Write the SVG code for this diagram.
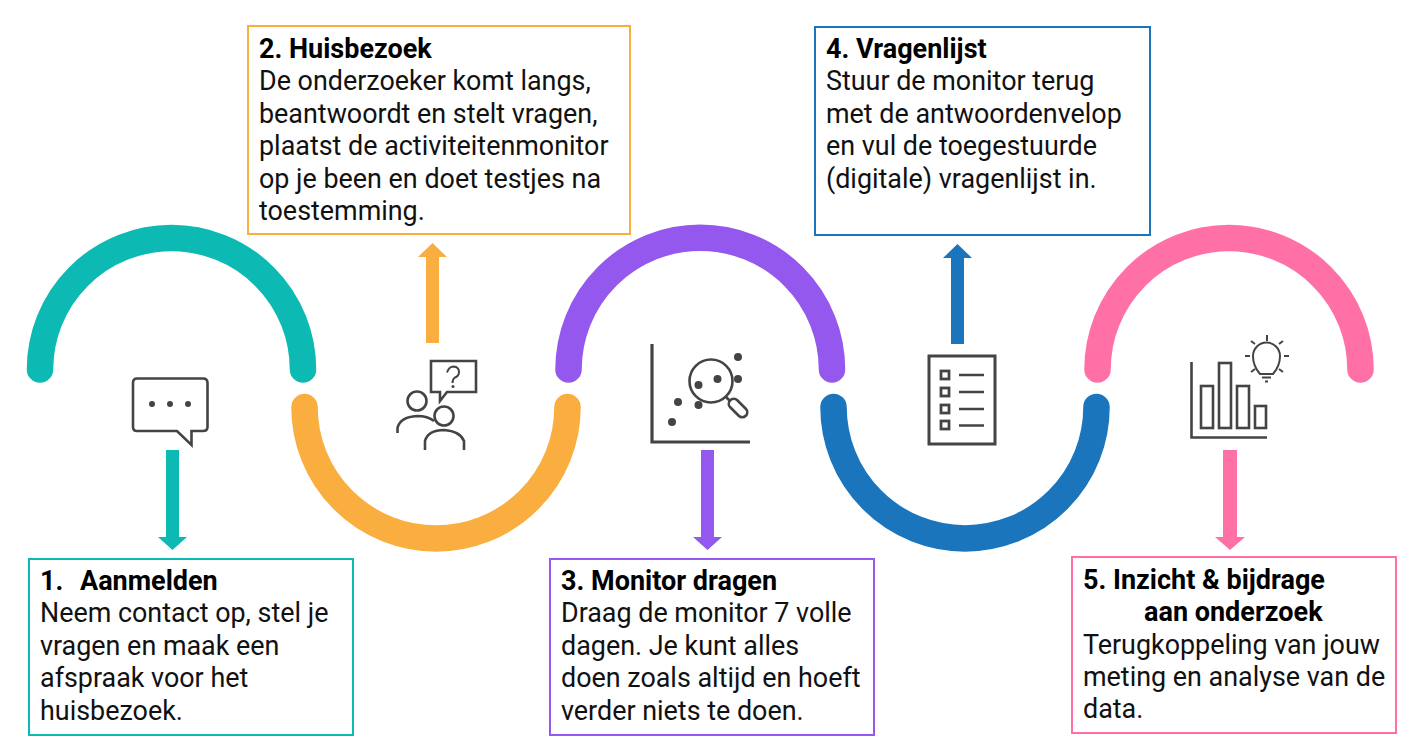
<svg xmlns="http://www.w3.org/2000/svg" width="1417" height="746" viewBox="0 0 1417 746">
<style>
text{font-family:Roboto,"Liberation Sans",sans-serif;font-size:26.9px;fill:#111}
.h{font-weight:700;fill:#000;font-size:27px}
.box{fill:#fff;stroke-width:2}
.arc{fill:none;stroke-width:26.500;stroke-linecap:round}
.ic{fill:none;stroke:#444;stroke-width:2.600}
.th{fill:none;stroke:#444;stroke-width:2}
.d{fill:#444}
</style>
<rect width="1417" height="746" fill="#fff"/>
<g id="connectors">
<path class="arc" stroke="#0cbab3" d="M40 369.500A131.500 131.500 0 0 1 303 369.500"/>
<path class="arc" stroke="#faae3f" d="M304.500 407A131.500 131.500 0 0 0 567.500 407"/>
<path class="arc" stroke="#9558ee" d="M568.500 369.500A131.750 131.750 0 0 1 832 369.500"/>
<path class="arc" stroke="#1b75bc" d="M833.500 407A131.500 131.500 0 0 0 1096.500 407"/>
<path class="arc" stroke="#ff70a6" d="M1097.500 369.500A131.500 131.500 0 0 1 1360.500 369.500"/>
<path fill="#0cbab3" d="M166 450H179V537H187L172.500 550 158 537H166Z"/>
<path fill="#faae3f" d="M426 343H439V257H447L432.500 243 418 257H426Z"/>
<path fill="#9558ee" d="M701 450H714V537H722L707.500 550 693 537H701Z"/>
<path fill="#1b75bc" d="M951 344H964V258H972L957.500 244 943 258H951Z"/>
<path fill="#ff70a6" d="M1223 450H1237V537H1245L1230 550 1215 537H1223Z"/>
</g>
<g id="icon-chat">
<path class="ic" d="M137 378.500H203Q207.500 378.500 207.500 383V427Q207.500 431 203 431H191.500V445L177 431H137Q133 431 133 427V383Q133 378.500 137 378.500Z"/>
<circle class="d" cx="152" cy="404" r="3"/><circle class="d" cx="170" cy="404" r="3"/><circle class="d" cx="188" cy="404" r="3"/>
</g>
<g id="icon-people">
<path class="ic" d="M431 361H476V392H447L440 401V392H431Z"/>
<path class="th" d="M447 372.500Q449 366.500 453.500 366.500 459 367 459 372 459 376 455 377.500 452.500 379 452.500 383"/>
<circle class="d" cx="453" cy="386.500" r="1.500"/>
<circle class="ic" cx="417" cy="401" r="9.500"/>
<circle class="ic" cx="444" cy="416" r="9.500"/>
<path class="ic" d="M397.500 433V428Q400 417 417 416 428 416 434 421"/>
<path class="ic" d="M425 450V441Q428 430 444 430 460 431 464 441V450"/>
</g>
<g id="icon-scatter">
<path fill="none" stroke="#444" stroke-width="3.200" d="M652 344V442H750"/>
<circle class="ic" cx="711" cy="381" r="21.500"/>
<rect class="ic" x="-5" y="-11" width="10" height="22" rx="5" transform="translate(738 408) rotate(-45)"/>
<path class="ic" d="M726 397L730 401"/>
<circle class="d" cx="738" cy="357" r="4"/><circle class="d" cx="738" cy="379" r="4"/><circle class="d" cx="717.500" cy="379" r="4"/><circle class="d" cx="698.500" cy="385" r="4"/><circle class="d" cx="698.500" cy="405" r="4"/><circle class="d" cx="678" cy="402" r="4"/><circle class="d" cx="672" cy="422" r="4"/>
</g>
<g id="icon-list">
<rect fill="none" stroke="#444" stroke-width="3" x="929" y="356" width="66" height="88"/>
<g fill="none" stroke="#444" stroke-width="2.800"><rect x="941" y="371" width="8" height="8"/><rect x="941" y="388" width="8" height="8"/><rect x="941" y="405" width="8" height="8"/><rect x="941" y="421" width="8" height="8"/></g>
<path class="ic" d="M959 375H984M959 392H984M959 409H984M959 425.500H984"/>
</g>
<g id="icon-chart">
<path class="ic" d="M1191.500 362V437.500H1267"/>
<rect class="ic" x="1201" y="386" width="12" height="42"/>
<rect class="ic" x="1219" y="363" width="12" height="65"/>
<rect class="ic" x="1237" y="386" width="12" height="42"/>
<rect class="ic" x="1255" y="406" width="11" height="22"/>
<path class="th" d="M1260 374Q1253 366 1253 356A13.500 13.500 0 0 1 1280 356Q1280 366 1273 374ZM1262 377.500H1271M1265 381.500H1268M1267 335V341M1245 356H1250M1284 356H1289M1251 341L1255 344M1283 341L1279 344M1251 372L1255 369M1283 372L1279 369"/>
</g>
<g id="node-1">
<rect class="box" stroke="#0cbab3" x="29" y="559" width="324" height="176"/>
<text class="h" x="40" y="590">1.</text><text class="h" x="80" y="590">Aanmelden</text>
<text x="40" y="622">Neem contact op, stel je</text>
<text x="40" y="655">vragen en maak een</text>
<text x="40" y="687">afspraak voor het</text>
<text x="40" y="720">huisbezoek.</text>
</g>
<g id="node-2">
<rect class="box" stroke="#faae3f" x="248" y="26" width="382" height="208"/>
<text class="h" x="259" y="58">2. Huisbezoek</text>
<text x="259" y="90">De onderzoeker komt langs,</text>
<text x="259" y="123">beantwoordt en stelt vragen,</text>
<text x="259" y="155">plaatst de activiteitenmonitor</text>
<text x="259" y="188">op je been en doet testjes na</text>
<text x="259" y="220">toestemming.</text>
</g>
<g id="node-3">
<rect class="box" stroke="#9558ee" x="550" y="559" width="324" height="176"/>
<text class="h" x="561" y="590">3. Monitor dragen</text>
<text x="561" y="622">Draag de monitor 7 volle</text>
<text x="561" y="655">dagen. Je kunt alles</text>
<text x="561" y="687">doen zoals altijd en hoeft</text>
<text x="561" y="720">verder niets te doen.</text>
</g>
<g id="node-4">
<rect class="box" stroke="#1b75bc" x="815" y="27" width="335" height="208"/>
<text class="h" x="826" y="58">4. Vragenlijst</text>
<text x="826" y="90">Stuur de monitor terug</text>
<text x="826" y="123">met de antwoordenvelop</text>
<text x="826" y="155">en vul de toegestuurde</text>
<text x="826" y="188">(digitale) vragenlijst in.</text>
</g>
<g id="node-5">
<rect class="box" stroke="#ff70a6" x="1072" y="557" width="324" height="176"/>
<text class="h" x="1083" y="589">5. Inzicht &amp; bijdrage</text>
<text class="h" x="1144" y="621">aan onderzoek</text>
<text x="1083" y="654">Terugkoppeling van jouw</text>
<text x="1083" y="686">meting en analyse van de</text>
<text x="1083" y="718">data.</text>
</g>
</svg>
